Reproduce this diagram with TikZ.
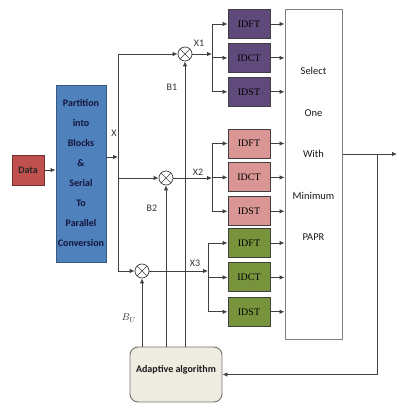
\documentclass[tikz,border=0pt]{standalone}
\usepackage{fontspec}
\setmainfont{Carlito}
\newfontfamily\trfont{Liberation Serif}
\usetikzlibrary{arrows.meta,positioning,calc}
\definecolor{datared}{HTML}{C0504D}
\definecolor{partblue}{HTML}{4F81BD}
\definecolor{partnavy}{HTML}{14143C}
\definecolor{purp}{HTML}{604A7B}
\definecolor{pink}{HTML}{D99694}
\definecolor{olive}{HTML}{77933C}
\definecolor{beige}{HTML}{EEECE1}
\tikzset{
  databox/.style={rectangle,draw=datared!60!black,fill=datared,line width=0.8pt,
    minimum width=32pt,minimum height=30pt,text=black!85,
    font=\bfseries\fontsize{10}{12}\selectfont,inner sep=2pt},
  partbox/.style={rectangle,draw=partblue!70!black,fill=partblue,line width=0.8pt,
    minimum width=48pt,minimum height=177pt,align=center,text=partnavy,
    font=\bfseries\fontsize{10}{20}\selectfont,inner sep=2pt},
  trbox/.style={rectangle,draw=black!75,line width=0.9pt,
    minimum width=42pt,minimum height=29pt,text=black,
    font=\trfont\fontsize{10}{12}\selectfont,inner sep=1pt},
  selbox/.style={rectangle,draw=black!50,fill=white,line width=1pt,
    minimum width=57pt,minimum height=330pt},
  seltext/.style={align=center,font=\fontsize{10.5}{41.5}\selectfont,text=black!90},
  adaptbox/.style={rectangle,rounded corners=8pt,draw=black!55,fill=beige,line width=0.9pt,
    minimum width=92pt,minimum height=55pt,text depth=12pt,text=black!90,
    font=\bfseries\fontsize{10}{12}\selectfont},
  mult/.style={circle,draw=black!75,fill=white,line width=0.7pt,minimum size=14pt,inner sep=0pt,
    path picture={\draw[black!75,line width=0.6pt]
      (path picture bounding box.north west) -- (path picture bounding box.south east)
      (path picture bounding box.north east) -- (path picture bounding box.south west);}},
  lbl/.style={font=\fontsize{10}{12}\selectfont,text=black!80,inner sep=1pt},
  arrow/.style={-{Latex[length=5pt,width=4.5pt]},line width=0.8pt,draw=black!75},
  line/.style={line width=0.8pt,draw=black!75},
}

\begin{document}
\begin{tikzpicture}[x=1pt,y=1pt]
  \useasboundingbox (0,0) rectangle (403,404);
  % input side
  \node[databox]  (data)  at (28,234)    {Data};
  \node[partbox]  (part)  at (81,230.5)  {Partition\\into\\Blocks\\\&\\Serial\\To\\Parallel\\Conversion};
  \node[mult]     (m1)    at (185,350)   {};
  \node[mult]     (m2)    at (166,226)   {};
  \node[mult]     (m3)    at (142,133)   {};
  \node[adaptbox] (adapt) at (176,29.5)  {Adaptive algorithm};
  % transforms
  \node[trbox,fill=purp]  (dft1) at (249,380) {IDFT};
  \node[trbox,fill=purp,  below=4pt of dft1] (dct1) {IDCT};
  \node[trbox,fill=purp,  below=4pt of dct1] (dst1) {IDST};
  \node[trbox,fill=pink]  (dft2) at (249,260.5) {IDFT};
  \node[trbox,fill=pink,  below=4pt of dft2] (dct2) {IDCT};
  \node[trbox,fill=pink,  below=4pt of dct2] (dst2) {IDST};
  \node[trbox,fill=olive] (dft3) at (249,161) {IDFT};
  \node[trbox,fill=olive, below=4.5pt of dft3] (dct3) {IDCT};
  \node[trbox,fill=olive, below=4.5pt of dct3] (dst3) {IDST};
  \node[selbox] (sel) at (313.5,229) {};
  \node[seltext] (seltxt) at (313.5,250) {Select\\One\\With\\Minimum\\PAPR};
  % labels
  \node[lbl] (lx)  at (114,271) {X};
  \node[lbl] (lx1) at (199,361) {X1};
  \node[lbl] (lx2) at (198,232) {X2};
  \node[lbl] (lx3) at (195,141) {X3};
  \node[lbl] (lb1) at (172,317) {B1};
  \node[lbl] (lb2) at (152,196) {B2};
  \node[lbl] (lbu) at (129,86)  {$B_U$};
  \coordinate (xs)  at (118,247);
  \coordinate (b1)  at (212,350);
  \coordinate (b2)  at (212,226);
  \coordinate (b3)  at (208,133);
  \coordinate (out) at (397,250);
  \coordinate (fb)  at (377,250);
  % connectors
  \draw[arrow] (data.east) -- (data.east -| part.west);
  \draw[arrow] (part.east |- xs) -- (xs);
  \draw[line]  (xs |- m1) -- (xs |- m3);
  \draw[arrow] (xs |- m1) -- (m1.west);
  \draw[arrow] (xs |- m2) -- (m2.west);
  \draw[arrow] (xs |- m3) -- (m3.west);
  \draw[arrow] (m1 |- adapt.north) -- (m1.south);
  \draw[arrow] (m2 |- adapt.north) -- (m2.south);
  \draw[arrow] (m3 |- adapt.north) -- (m3.south);
  \draw[arrow] (m1.east) -- (b1);
  \draw[arrow] (m2.east) -- (b2);
  \draw[arrow] (m3.east) -- (b3);
  \draw[line]  (b1 |- dft1) -- (b1 |- dst1);
  \draw[line]  (b2 |- dft2) -- (b2 |- dst2);
  \draw[line]  (b3 |- dft3) -- (b3 |- dst3);
  \foreach \n in {dft1,dct1,dst1} \draw[arrow] (b1 |- \n) -- (\n.west);
  \foreach \n in {dft2,dct2,dst2} \draw[arrow] (b2 |- \n) -- (\n.west);
  \foreach \n in {dft3,dct3,dst3} \draw[arrow] (b3 |- \n) -- (\n.west);
  \foreach \n in {dft1,dct1,dst1,dft2,dct2,dst2,dft3,dct3,dst3}
    \draw[arrow] (\n.east) -- (\n.east -| sel.west);
  \draw[arrow] (sel.east |- out) -- (out);
  \draw[arrow] (fb) -- (fb |- adapt.east) -- (adapt.east);
\end{tikzpicture}
\end{document}
